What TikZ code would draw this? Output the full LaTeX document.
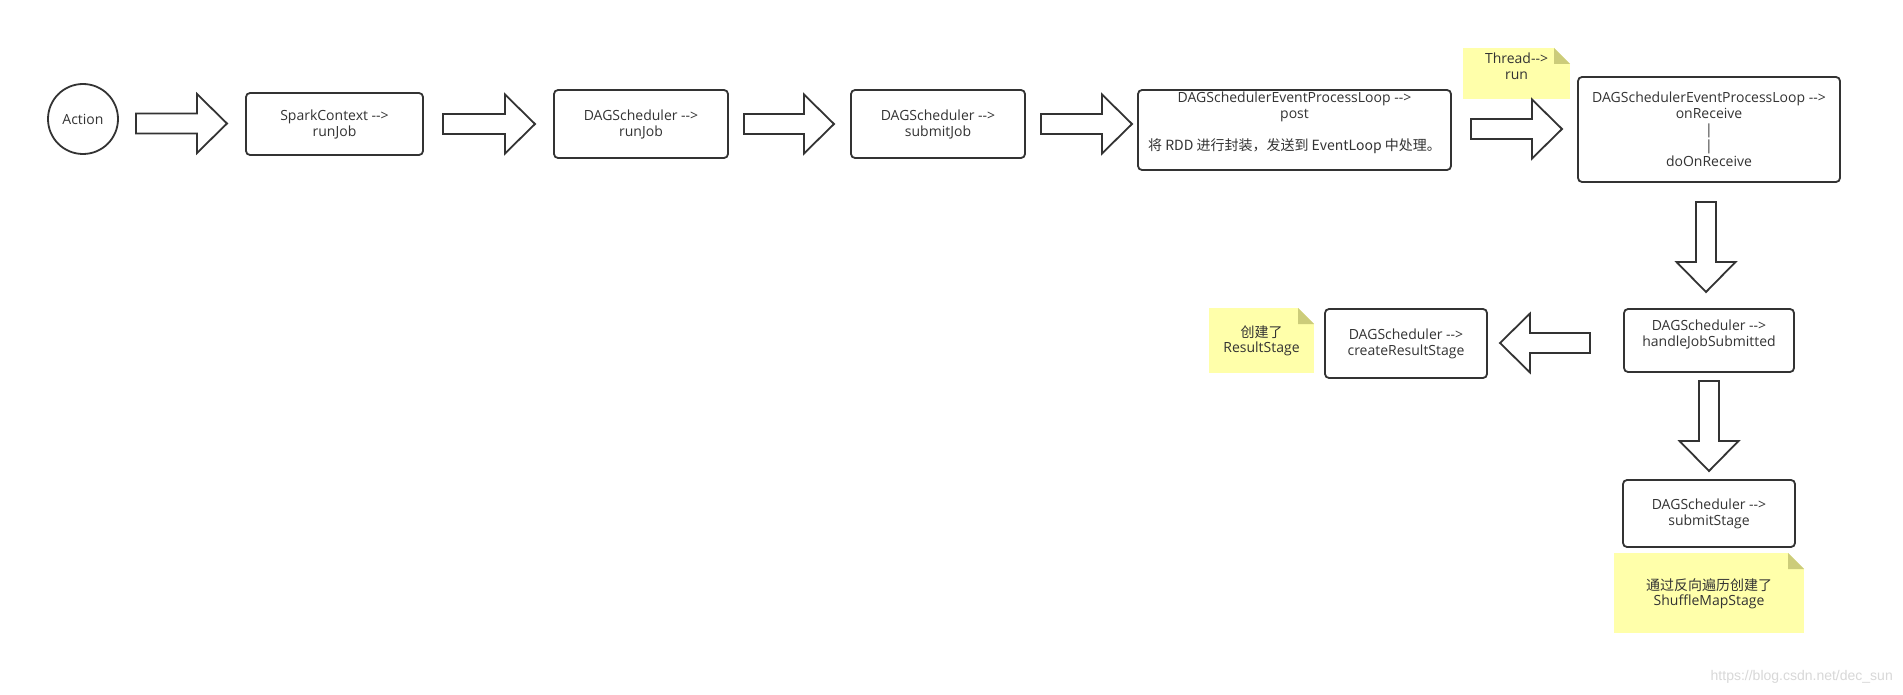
\documentclass[tikz,border=0pt]{standalone}
\usepackage{fontspec}
\setmainfont{Open Sans}[Ligatures=TeXReset]
\newfontfamily\cjk{Noto Sans CJK SC}[Ligatures=TeXReset]
\newfontfamily\wmfont{Liberation Sans}[Ligatures=TeXReset]
\usetikzlibrary{calc}
\definecolor{linec}{HTML}{333333}
\definecolor{notefill}{HTML}{FFFFAA}
\definecolor{foldc}{HTML}{CCCC7A}
\definecolor{wmc}{HTML}{D8D8D8}
\tikzset{
  lbl/.style={font=\fontsize{14}{16}\selectfont, text=linec, align=center, inner sep=0pt},
  box/.style={draw=linec, line width=1.8pt, rounded corners=4pt, fill=white, inner sep=0pt,
              font=\fontsize{14}{16}\selectfont, text=linec, align=center},
  circ/.style={draw=linec, line width=1.8pt, circle, fill=white, inner sep=0pt,
              font=\fontsize{14}{16}\selectfont, text=linec},
  note/.style={fill=notefill, inner sep=0pt, path picture={
     \fill[white] ([xshift=-16pt]path picture bounding box.north east) -- (path picture bounding box.north east)
        -- ([yshift=-16pt]path picture bounding box.north east) -- cycle;
     \fill[foldc] ([xshift=-16pt]path picture bounding box.north east) -- ([xshift=-16pt,yshift=-16pt]path picture bounding box.north east)
        -- ([yshift=-16pt]path picture bounding box.north east) -- cycle;}},
  blk/.style={draw=linec, line width=1.8pt, fill=white, line join=miter}
}
% block arrow from coordinate #1 to coordinate #2
\newcommand\blockarrow[2]{%
  \coordinate (tmpC) at ($(#2)!30pt!(#1)$);
  \draw[blk] ($(#1)!10pt!90:(#2)$) -- ($(tmpC)!10pt!90:(#2)$) -- ($(tmpC)!29.5pt!90:(#2)$) -- (#2)
     -- ($(tmpC)!29.5pt!-90:(#2)$) -- ($(tmpC)!10pt!-90:(#2)$) -- ($(#1)!10pt!-90:(#2)$) -- cycle;}
\begin{document}
\begin{tikzpicture}[x=1pt,y=-1pt]
\useasboundingbox[fill=white] (0,0) rectangle (1903,695);

% nodes
\node[circ, minimum size=70pt] (act) at (83,119) {Action};
\node[box, minimum width=177pt, minimum height=62pt] (spark) at (334.5,124) {SparkContext -->\\runJob};
\node[box, minimum width=174pt, minimum height=68pt] (runjob) at (641,124) {DAGScheduler -->\\runJob};
\node[box, minimum width=174pt, minimum height=68pt] (submitjob) at (938,124) {DAGScheduler -->\\submitJob};
\node[box, minimum width=313pt, minimum height=80pt] (post) at (1294.5,130) {};
\node[lbl] (posttext) at (1294.5,123) {DAGSchedulerEventProcessLoop -->\\post\\[16pt]\cjk{将} RDD \cjk{进行封装，发送到} EventLoop \cjk{中处理。}};
\node[note, minimum width=107pt, minimum height=51pt] (thread) at (1516.5,73.5) {};
\node[lbl] (threadtext) at (1516.5,66) {Thread-->\\run};
\node[box, minimum width=262pt, minimum height=105pt] (onrecv) at (1709,129.5)
  {DAGSchedulerEventProcessLoop -->\\onReceive\\|\\|\\doOnReceive};
\node[box, minimum width=170pt, minimum height=63pt] (handle) at (1709,340.5) {};
\node[lbl] (handletext) at (1709,334) {DAGScheduler -->\\handleJobSubmitted};
\node[box, minimum width=162pt, minimum height=69pt] (create) at (1406,343.5) {DAGScheduler -->\\createResultStage};
\node[note, minimum width=105pt, minimum height=65pt] (rsnote) at (1261.5,340.5) {};
\node[lbl, font=\fontsize{14}{15}\selectfont] (rstext) at (1261.5,340.5) {\cjk{创建了}\\ResultStage};
\node[box, minimum width=172pt, minimum height=67pt] (substage) at (1709,513.5) {DAGScheduler -->\\submitStage};
\node[note, minimum width=190pt, minimum height=80pt] (smnote) at (1709,593) {};
\node[lbl, font=\fontsize{14}{15}\selectfont] (smtext) at (1709,593.5) {\cjk{通过反向遍历创建了}\\ShuffleMapStage};

% block arrows
\coordinate (a1s) at (136,123.5);  \coordinate (a1e) at (227,123.5);
\coordinate (a2s) at (443,124);    \coordinate (a2e) at (535,124);
\coordinate (a3s) at (744,124);    \coordinate (a3e) at (834,124);
\coordinate (a4s) at (1041,124);   \coordinate (a4e) at (1132,124);
\coordinate (a5s) at (1471,129);   \coordinate (a5e) at (1562,129);
\coordinate (d1s) at (1706,202);   \coordinate (d1e) at (1706,292);
\coordinate (l1s) at (1590,343);   \coordinate (l1e) at (1500,343);
\coordinate (d2s) at (1709,381);   \coordinate (d2e) at (1709,471);
\blockarrow{a1s}{a1e}
\blockarrow{a2s}{a2e}
\blockarrow{a3s}{a3e}
\blockarrow{a4s}{a4e}
\blockarrow{a5s}{a5e}
\blockarrow{d1s}{d1e}
\blockarrow{l1s}{l1e}
\blockarrow{d2s}{d2e}

% watermark
\node[anchor=east, inner sep=0pt, font=\wmfont\fontsize{14}{16}\selectfont, text=wmc] (wm) at (1893,677) {https://blog.csdn.net/dec\_sun};
\end{tikzpicture}
\end{document}
